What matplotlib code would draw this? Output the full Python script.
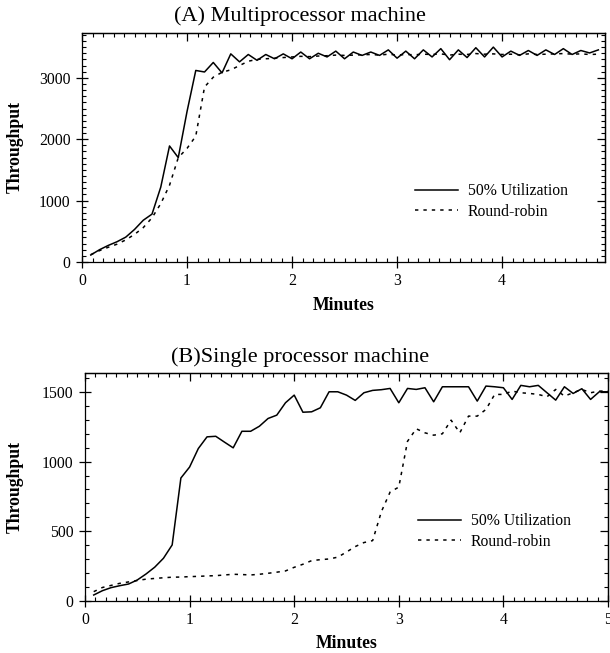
import matplotlib
matplotlib.use('Agg')
import matplotlib.pyplot as plt
import numpy as np
from matplotlib.ticker import MultipleLocator

plt.rcParams['font.family'] = ['Liberation Serif', 'DejaVu Serif']
plt.rcParams['mathtext.fontset'] = 'stix'

# ---------------- data ----------------
sec_a = [5, 10, 15, 20, 25, 30, 35, 40, 45, 50, 55, 60, 65, 70, 75, 80, 85, 90, 95, 100,
         105, 110, 115, 120, 125, 130, 135, 140, 145, 150, 155, 160, 165, 170, 175, 180,
         185, 190, 195, 200, 205, 210, 215, 220, 225, 230, 235, 240, 245, 250, 255, 260,
         265, 270, 275, 280, 285, 290, 295]
util_a = [114, 200, 270, 330, 405, 530, 680, 780, 1220, 1890, 1700, 2450, 3120, 3095,
          3250, 3080, 3390, 3260, 3380, 3285, 3380, 3310, 3390, 3310, 3420, 3310, 3400,
          3340, 3435, 3310, 3420, 3365, 3420, 3365, 3455, 3320, 3435, 3310, 3455, 3340,
          3475, 3295, 3455, 3330, 3490, 3340, 3500, 3340, 3435, 3365, 3445, 3365, 3455,
          3380, 3475, 3380, 3445, 3405, 3455]
rr_a = [120, 185, 240, 290, 360, 450, 560, 720, 950, 1250, 1700, 1850, 2050, 2850, 3010,
        3090, 3130, 3200, 3270, 3300, 3310, 3320, 3330, 3340, 3350, 3345, 3355, 3360,
        3370, 3365, 3370, 3375, 3380, 3370, 3385, 3370, 3380, 3375, 3385, 3380, 3390,
        3370, 3385, 3380, 3395, 3385, 3390, 3380, 3385, 3375, 3390, 3380, 3385, 3390,
        3395, 3385, 3390, 3380, 3385]

sec_b = [5, 10, 15, 20, 25, 30, 35, 40, 45, 50, 55, 60, 65, 70, 75, 80, 85, 90, 95, 100,
         105, 110, 115, 120, 125, 130, 135, 140, 145, 150, 155, 160, 165, 170, 175, 180,
         185, 190, 195, 200, 205, 210, 215, 220, 225, 230, 235, 240, 245, 250, 255, 260,
         265, 270, 275, 280, 285, 290, 295, 300]
util_b = [41, 72, 94, 108, 120, 149, 192, 241, 305, 401, 882, 961, 1094, 1178, 1182,
          1140, 1099, 1218, 1218, 1254, 1310, 1334, 1423, 1478, 1355, 1358, 1387, 1502,
          1502, 1478, 1440, 1495, 1512, 1517, 1526, 1423, 1526, 1519, 1531, 1430, 1538,
          1538, 1538, 1538, 1435, 1543, 1538, 1531, 1447, 1548, 1538, 1548, 1495, 1442,
          1538, 1490, 1524, 1447, 1502, 1502]
rr_b = [65, 95, 110, 125, 135, 145, 155, 160, 165, 169, 170, 173, 175, 178, 180, 185,
        190, 188, 185, 190, 197, 205, 214, 240, 262, 288, 295, 300, 313, 350, 389, 418,
        432, 640, 781, 817, 1146, 1236, 1207, 1190, 1200, 1298, 1207, 1327, 1327, 1375,
        1483, 1483, 1507, 1495, 1490, 1483, 1466, 1519, 1471, 1495, 1519, 1495, 1507,
        1507]

titles = ["(A) Multiprocessor machine", "(B)Single processor machine"]
series_labels = ["50% Utilization", "Round-robin"]
xlabel = "Minutes"
ylabel = "Throughput"

# ---------------- figure ----------------
W, H = 610, 653
fig = plt.figure(figsize=(W / 100, H / 100), dpi=100)


def px_axes(left, top, right, bottom):
    return fig.add_axes([left / W, 1 - bottom / H, (right - left) / W, (bottom - top) / H])


def style(ax, xmax, ymax, ymajor):
    ax.set_xlim(0, xmax)
    ax.set_ylim(0, ymax)
    ax.xaxis.set_major_locator(MultipleLocator(1))
    ax.xaxis.set_minor_locator(MultipleLocator(0.1))
    ax.yaxis.set_major_locator(MultipleLocator(ymajor))
    ax.yaxis.set_minor_locator(MultipleLocator(100))
    ax.tick_params(which='major', direction='inout', length=8.5, width=0.9,
                   labelsize=11.3, pad=4, top=False, right=False)
    ax.tick_params(which='minor', direction='in', length=3, width=0.8,
                   top=False, right=False)
    for s in ax.spines.values():
        s.set_linewidth(0.9)
    # top / right inward ticks
    sx = ax.secondary_xaxis('top')
    sx.xaxis.set_major_locator(MultipleLocator(1))
    sx.xaxis.set_minor_locator(MultipleLocator(0.1))
    sx.tick_params(which='major', direction='in', length=6, width=0.9, labeltop=False)
    sx.tick_params(which='minor', direction='in', length=3, width=0.8)
    sx.spines['top'].set_linewidth(0.9)
    sy = ax.secondary_yaxis('right')
    sy.yaxis.set_major_locator(MultipleLocator(ymajor))
    sy.yaxis.set_minor_locator(MultipleLocator(100))
    sy.tick_params(which='major', direction='in', length=6, width=0.9, labelright=False)
    sy.tick_params(which='minor', direction='in', length=3, width=0.8)
    sy.spines['right'].set_linewidth(0.9)


dash = (0, (2.2, 3.3))

panels = [
    dict(box=(82, 33, 605, 262), xmax=4.98, ymax=3730, ymajor=1000,
         sec=sec_a, u=util_a, r=rr_a, leg=(0.637, 0.345),
         title_y=16, xlab_y=306, ylab_y=147, xlab_x=344),
    dict(box=(85, 373, 608, 600.7), xmax=5.0, ymax=1637, ymajor=500,
         sec=sec_b, u=util_b, r=rr_b, leg=(0.637, 0.385),
         title_y=357, xlab_y=644, ylab_y=487, xlab_x=347),
]

for i, p in enumerate(panels):
    ax = px_axes(*p['box'])
    style(ax, p['xmax'], p['ymax'], p['ymajor'])
    minutes = np.array(p['sec']) / 60.0
    ax.plot(minutes, p['u'], color='black', lw=1.1, label=series_labels[0])
    ax.plot(minutes, p['r'], color='black', lw=1.1, linestyle=dash, label=series_labels[1])
    leg = ax.legend(loc='upper left', bbox_to_anchor=p['leg'], frameon=False,
                    fontsize=11.3, handlelength=2.7, handletextpad=0.65,
                    labelspacing=0.3, borderpad=0, borderaxespad=0)
    fig.text(300 / W, 1 - p['title_y'] / H, titles[i], ha='center', va='center',
             fontsize=16)
    fig.text(p['xlab_x'] / W, 1 - p['xlab_y'] / H, xlabel, ha='center', va='center',
             fontsize=12.7, fontweight='bold')
    fig.text(15 / W, 1 - p['ylab_y'] / H, ylabel, ha='center', va='center',
             rotation=90, fontsize=12.7, fontweight='bold')

fig.savefig('out.png', dpi=100)
